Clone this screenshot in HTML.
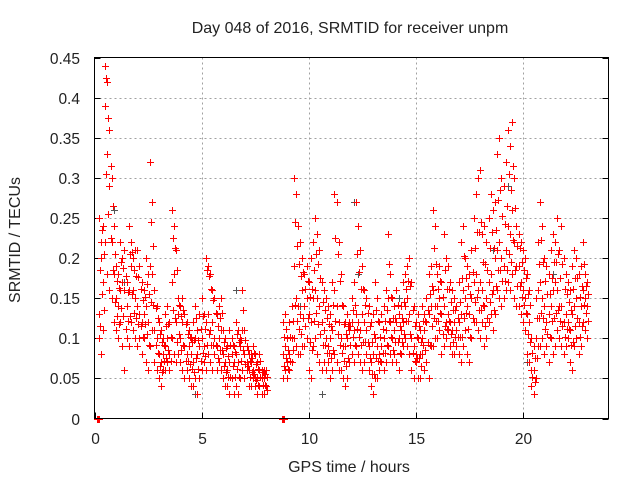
<!DOCTYPE html>
<html><head><meta charset="utf-8"><style>
html,body{margin:0;padding:0;background:#fff;width:640px;height:480px;overflow:hidden}
svg{display:block;font-family:"Liberation Sans",sans-serif}
</style></head><body>
<svg id="chart" width="640" height="480" viewBox="0 0 640 480" xmlns="http://www.w3.org/2000/svg">
<rect width="640" height="480" fill="#fff"/>
<g id="grid"></g>
<g id="ticks"></g>
<g id="marks"></g>
<rect x="94.5" y="57.5" width="514" height="361" fill="none" stroke="#000" stroke-width="1"/>
<text x="350" y="33" font-size="16" text-anchor="middle" fill="#222">Day 048 of 2016, SRMTID for receiver unpm</text>
<text transform="translate(20,240) rotate(-90)" font-size="16" text-anchor="middle" fill="#222">SRMTID / TECUs</text>
<text x="349" y="472" font-size="16" text-anchor="middle" fill="#222">GPS time / hours</text>
</svg>
<script>
const xTicks=[0,5,10,15,20];
const xTickLabels=["0","5","10","15","20"];
const yTicks=[0,0.05,0.1,0.15,0.2,0.25,0.3,0.35,0.4,0.45];
const yTickLabels=["0","0.05","0.1","0.15","0.2","0.25","0.3","0.35","0.4","0.45"];
const times=[0.2,0.3,0.4,0.5,0.6,0.7,0.8,0.9,
1.0,1.1,1.2,1.3,1.4,1.5,1.6,1.7,1.8,1.9,
2.0,2.1,2.2,2.3,2.4,2.5,2.6,2.7,2.8,2.9,
3.0,3.1,3.2,3.3,3.4,3.5,3.6,3.7,3.8,3.9,
4.0,4.1,4.2,4.3,4.4,4.5,4.6,4.7,4.8,4.9,
5.0,5.1,5.2,5.3,5.4,5.5,5.6,5.7,5.8,5.9,
6.0,6.1,6.2,6.3,6.4,6.5,6.6,6.7,6.8,6.9,
7.0,7.1,7.2,7.3,7.4,7.5,7.6,7.7,7.8,7.9,8.0,
8.8,8.9,9.0,9.1,9.2,9.3,9.4,9.5,9.6,9.7,
9.8,9.9,10.0,10.1,10.2,10.3,10.4,10.5,10.6,10.7,
10.8,10.9,11.0,11.1,11.2,11.3,11.4,11.5,11.6,11.7,
11.8,11.9,12.0,12.1,12.2,12.3,12.4,12.5,12.6,12.7,
12.8,12.9,13.0,13.1,13.2,13.3,13.4,13.5,13.6,13.7,
13.8,13.9,14.0,14.1,14.2,14.3,14.4,14.5,14.6,14.7,
14.8,14.9,15.0,15.1,15.2,15.3,15.4,15.5,15.6,15.7,
15.8,15.9,16.0,16.1,16.2,16.3,16.4,16.5,16.6,16.7,
16.8,16.9,17.0,17.1,17.2,17.3,17.4,17.5,17.6,17.7,
17.8,17.9,18.0,18.1,18.2,18.3,18.4,18.5,18.6,18.7,
18.8,18.9,19.0,19.1,19.2,19.3,19.4,19.5,19.6,19.7,
19.8,19.9,20.0,20.1,20.2,20.3,20.4,20.5,20.6,20.7,
20.8,20.9,21.0,21.1,21.2,21.3,21.4,21.5,21.6,21.7,
21.8,21.9,22.0,22.1,22.2,22.3,22.4,22.5,22.6,22.7,
22.8,22.9,23.0];
const seriesHigh=[.25,.22,.24,.44,.42,.36,.30,.24,
.19,.18,.22,.20,.21,.17,.24,.22,.20,.21,
.21,.19,.17,.16,.20,.18,.32,.27,.16,.14,
.12,.11,.10,.13,.14,.12,.26,.24,.21,.15,
.14,.15,.13,.12,.11,.10,.12,.14,.11,.13,
.15,.13,.20,.19,.18,.16,.15,.13,.14,.15,
.11,.10,.09,.11,.10,.09,.12,.11,.10,.16,
.11,.09,.08,.08,.09,.08,.07,.08,.06,.06,.06,
.12,.13,.10,.12,.14,.30,.28,.24,.22,.20,
.18,.19,.17,.20,.22,.25,.23,.21,.17,.16,
.15,.14,.13,.17,.28,.27,.22,.18,.14,.12,
.13,.12,.15,.17,.27,.24,.21,.19,.16,.15,
.14,.12,.13,.17,.15,.12,.13,.14,.16,.23,
.18,.15,.14,.16,.13,.14,.17,.18,.19,.20,
.17,.14,.12,.13,.11,.14,.13,.15,.18,.19,
.26,.24,.18,.19,.17,.23,.20,.19,.17,.16,
.15,.14,.17,.22,.24,.20,.19,.18,.21,.25,
.28,.30,.31,.23,.24,.22,.25,.28,.26,.27,
.33,.35,.30,.29,.32,.36,.34,.37,.30,.24,
.23,.22,.21,.20,.18,.16,.10,.09,.15,.22,
.27,.24,.20,.19,.18,.21,.23,.22,.25,.21,
.24,.20,.18,.17,.16,.19,.21,.20,.18,.19,
.22,.18,.17];
const seriesMid=[.13,.20,.17,.39,.33,.29,.22,.18,
.15,.14,.16,.17,.16,.14,.16,.19,.16,.15,
.14,.13,.12,.13,.14,.12,.19,.18,.11,.10,
.08,.07,.08,.09,.10,.08,.17,.18,.12,.13,
.10,.12,.09,.08,.09,.08,.07,.10,.08,.09,
.10,.09,.12,.13,.11,.12,.10,.09,.10,.11,
.08,.07,.06,.07,.08,.07,.08,.07,.09,.11,
.08,.07,.06,.07,.06,.05,.05,.06,.05,.05,.04,
.08,.09,.07,.08,.10,.19,.15,.14,.13,.16,
.14,.15,.13,.12,.15,.16,.15,.14,.12,.11,
.10,.09,.10,.11,.16,.14,.12,.10,.09,.09,
.10,.11,.12,.11,.13,.12,.11,.13,.12,.11,
.09,.07,.08,.10,.09,.08,.09,.10,.11,.15,
.12,.10,.11,.12,.10,.11,.12,.14,.15,.13,
.10,.09,.08,.10,.08,.10,.11,.12,.13,.14,
.16,.14,.14,.15,.13,.14,.12,.13,.12,.11,
.12,.11,.12,.13,.16,.15,.14,.13,.15,.17,
.18,.16,.17,.16,.14,.15,.17,.18,.16,.20,
.21,.22,.20,.19,.21,.24,.23,.26,.22,.19,
.19,.17,.16,.15,.13,.12,.06,.06,.10,.16,
.17,.15,.14,.12,.13,.14,.16,.17,.16,.14,
.14,.12,.13,.12,.11,.13,.14,.15,.12,.14,
.16,.15,.14];
const seriesLow=[.10,.08,.11,.22,.18,.16,.15,.12,
.11,.10,.12,.09,.06,.10,.09,.12,.11,.10,
.09,.10,.08,.10,.07,.06,.09,.11,.07,.06,
.05,.04,.06,.06,.07,.06,.10,.08,.07,.08,
.07,.06,.05,.06,.05,.04,.04,.05,.03,.05,
.06,.07,.06,.08,.07,.06,.08,.06,.07,.06,
.05,.04,.04,.03,.05,.03,.04,.03,.05,.06,
.05,.06,.04,.04,.05,.04,.03,.04,.03,.03,.04,
.05,.06,.05,.06,.07,.10,.09,.08,.08,.09,
.09,.10,.06,.05,.09,.10,.08,.07,.06,.07,
.06,.07,.05,.06,.08,.07,.06,.06,.05,.04,
.05,.07,.08,.07,.09,.08,.07,.06,.07,.08,
.06,.04,.03,.05,.05,.06,.07,.06,.07,.09,
.08,.07,.08,.07,.06,.08,.09,.10,.09,.08,
.06,.05,.07,.05,.05,.08,.06,.07,.05,.09,
.09,.10,.10,.11,.08,.09,.10,.11,.09,.08,
.08,.09,.08,.07,.09,.11,.08,.07,.10,.12,
.12,.11,.10,.12,.09,.10,.12,.13,.11,.13,
.16,.15,.14,.15,.16,.17,.16,.18,.15,.14,
.14,.13,.12,.11,.08,.07,.04,.03,.05,.09,
.09,.10,.08,.09,.07,.10,.08,.09,.11,.10,
.09,.08,.09,.10,.07,.06,.09,.10,.08,.09,
.12,.11,.10];
const seriesExtraA=[.185,.235,.205,.425,.375,.315,.265,.205,
.172,.163,.195,.187,.178,.158,.205,.208,.185,.178,
.176,.162,.148,.152,.168,.155,.245,.215,.138,.125,
.105,.095,.092,.115,.118,.102,.225,.212,.185,.142,
.128,.135,.118,.105,.102,.095,.098,.125,.098,.112,
.128,.112,.185,.178,.162,.148,.132,.115,.125,.132,
.095,.088,.078,.092,.092,.083,.105,.095,.098,.135,
.098,.085,.072,.076,.082,.068,.062,.072,.058,.055,.052,
.102,.112,.085,.102,.122,.245,.215,.192,.178,.182,
.162,.172,.152,.162,.185,.205,.192,.175,.145,.135,
.125,.118,.115,.142,.225,.205,.172,.142,.118,.105,
.115,.115,.135,.142,.205,.182,.162,.162,.142,.132,
.115,.095,.105,.135,.122,.102,.112,.122,.135,.192,
.152,.125,.125,.142,.115,.125,.145,.162,.172,.165,
.135,.115,.102,.115,.095,.122,.122,.135,.155,.165,
.212,.192,.162,.172,.152,.185,.162,.162,.145,.135,
.135,.125,.145,.175,.202,.175,.165,.155,.182,.212,
.232,.232,.245,.195,.192,.185,.212,.232,.212,.235,
.272,.285,.252,.242,.265,.305,.285,.315,.262,.215,
.212,.195,.185,.175,.155,.142,.082,.075,.125,.192,
.222,.195,.172,.155,.155,.175,.195,.195,.205,.175,
.192,.162,.155,.145,.135,.162,.175,.175,.152,.165,
.192,.165,.155];
const seriesExtraB=[.115,.155,.135,.305,.255,.225,.185,.145,
.128,.118,.138,.128,.112,.122,.128,.155,.132,.125,
.118,.115,.102,.118,.105,.092,.145,.142,.092,.082,
.065,.058,.072,.075,.085,.072,.135,.125,.095,.105,
.085,.092,.072,.072,.068,.062,.058,.075,.062,.072,
.082,.078,.092,.105,.092,.092,.092,.075,.085,.085,
.065,.058,.052,.052,.065,.052,.062,.052,.072,.085,
.068,.065,.052,.058,.055,.048,.042,.052,.042,.042,.035,
.065,.075,.062,.072,.085,.142,.122,.112,.105,.125,
.115,.125,.095,.085,.122,.132,.118,.105,.092,.092,
.082,.082,.075,.085,.122,.105,.092,.082,.072,.065,
.075,.092,.102,.092,.112,.102,.092,.095,.095,.095,
.075,.055,.055,.075,.072,.072,.082,.082,.092,.122,
.102,.085,.095,.095,.082,.095,.105,.122,.122,.105,
.082,.072,.075,.075,.065,.092,.085,.095,.092,.115,
.125,.122,.122,.132,.105,.115,.112,.122,.105,.095,
.102,.102,.102,.102,.125,.132,.112,.102,.125,.145,
.152,.135,.135,.142,.115,.125,.145,.155,.135,.165,
.185,.185,.172,.172,.185,.205,.195,.222,.185,.165,
.165,.152,.142,.132,.105,.095,.052,.045,.075,.125,
.132,.125,.112,.105,.102,.122,.125,.132,.135,.122,
.115,.102,.112,.112,.092,.095,.115,.125,.102,.115,
.142,.132,.122];
const greyTimes=[0.6,0.9,1.4,3.3,4.7,6.6,7.8,9.6,10.6,12.1,12.3,14.2,18.6,19.3,20.2,21.4];
const greyValues=[0.42,0.26,0.17,0.06,0.03,0.16,0.05,0.14,0.03,0.27,0.18,0.15,0.21,0.29,0.07,0.18];
const zeroTimes=[0.1,0.15,0.2,8.75,8.8,8.85];
const zeroValues=[0,0,0,0,0,0];
const HALF_STEP=0.05;

const X0=94.5,X1=608.5,Y0=418.5,Y1=57.5;
function xs(t){return X0+(t-0)/(24-0)*(X1-X0);}
function ys(v){return Y0-(v-0)/(0.45-0)*(Y0-Y1);}
const NS="http://www.w3.org/2000/svg";
function mk(tag,attrs,parent){const e=document.createElementNS(NS,tag);for(const k in attrs)e.setAttribute(k,attrs[k]);parent.appendChild(e);return e;}
const grid=document.getElementById('grid'),ticks=document.getElementById('ticks'),marks=document.getElementById('marks');
xTicks.forEach((t,i)=>{
  const x=Math.round(xs(t))+0.5;
  if(t>0){const g=mk('line',{x1:x,x2:x,y1:Y1,y2:Y0,stroke:'#a0a0a0','stroke-dasharray':'2,3'},grid);
  
  }
  const l=mk('line',{x1:x,x2:x,y1:Y0,y2:Y0-6,stroke:'#000'},ticks);
  
  
  const tx=mk('text',{x:x,y:444,'font-size':'15.5','text-anchor':'middle',fill:'#222'},ticks);
  tx.textContent=xTickLabels[i];
  
  
});
yTicks.forEach((v,i)=>{
  const y=Math.round(ys(v))+0.5;
  if(v>0&&v<0.45){const g=mk('line',{x1:X0,x2:X1,y1:y,y2:y,stroke:'#a0a0a0','stroke-dasharray':'2,3'},grid);
  
  }
  const l=mk('line',{x1:X0,x2:X0+6,y1:y,y2:y,stroke:'#000'},ticks);
  
  
  const r=mk('line',{x1:X1-6,x2:X1,y1:y,y2:y,stroke:'#000'},ticks);
  
  
  const tx=mk('text',{x:80,y:y+5.5,'font-size':'15.5','text-anchor':'end',fill:'#222'},ticks);
  tx.textContent=yTickLabels[i];
  
  
});
function plus(t,v,color,name){
  const x=Math.round(xs(t))+0.5,y=Math.round(ys(v))+0.5;
  const p=mk('path',{d:`M${x-3.5} ${y}H${x+3.5}M${x} ${y-3.5}V${y+3.5}`,stroke:color,'stroke-width':'1',fill:'none'},marks);
  
  
}
greyTimes.forEach((t,i)=>plus(t,greyValues[i],'#555','grey-point'));
times.forEach((t,i)=>{
  plus(t,seriesLow[i],'#f00','point');
  plus(t,seriesMid[i],'#f00','point');
  plus(t,seriesHigh[i],'#f00','point');
  plus(t+HALF_STEP,seriesExtraA[i],'#f00','point');
  plus(t+HALF_STEP,seriesExtraB[i],'#f00','point');
});
zeroTimes.forEach((t,i)=>plus(t,zeroValues[i],'#f00','zero-point'));
</script>
</body></html>
